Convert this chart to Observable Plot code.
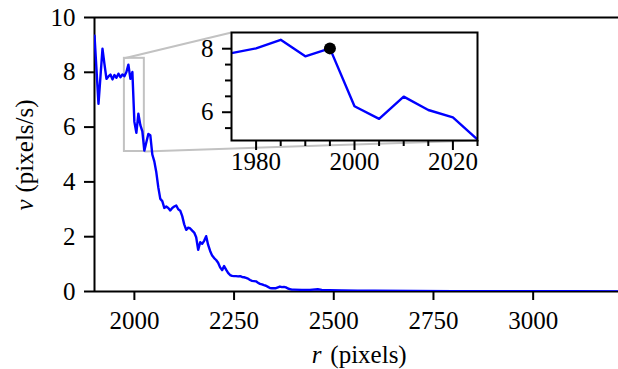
<!DOCTYPE html>
<html><head><meta charset="utf-8">
<script src="https://cdn.jsdelivr.net/npm/d3@7"></script>
<script src="https://cdn.jsdelivr.net/npm/@observablehq/plot@0.6"></script>
<style>
body{margin:0;background:#fff;font-family:'Liberation Serif','Times New Roman',Tinos,serif;}
#wrap{position:relative;width:618px;height:369px;background:#fff;}
#wrap svg{position:absolute;overflow:visible;}
</style></head><body><div id="wrap"></div>
<script>
// ---- data ----
const rValues = [
 1900,1905,1910,1915,1920,1925,1930,1935,1940,1945,
 1950,1955,1960,1965,1970,1975,1980,1985,1990,1995,
 2000,2005,2010,2015,2020,2025,2030,2035,2040,2045,
 2050,2055,2060,2065,2070,2075,2080,2085,2090,2095,
 2100,2105,2110,2115,2120,2125,2130,2135,2140,2145,
 2150,2155,2160,2165,2170,2175,2180,2185,2190,2195,
 2200,2205,2210,2215,2220,2225,2230,2235,2240,2245,
 2250,2255,2260,2265,2270,2275,2280,2285,2290,2295,
 2300,2305,2310,2315,2320,2325,2330,2335,2340,2345,
 2350,2355,2360,2365,2370,2375,2380,2385,2390,2395,
 2400,2420,2440,2460,2470,2490,2520,2560,2600,2700,
 2800,2900,3000,3100,3214
];
const vValues = [
 9.34,8.10,6.85,7.85,8.86,8.30,7.76,7.85,7.92,7.74,
 7.90,7.80,7.95,7.82,7.92,7.86,8.01,8.28,7.76,8.01,
 6.19,5.79,6.49,6.07,5.84,5.14,5.45,5.75,5.70,5.00,
 4.75,4.35,3.80,3.38,3.30,3.05,3.10,3.05,2.96,3.05,
 3.10,3.14,3.00,2.95,2.75,2.45,2.25,2.33,2.30,2.22,
 2.15,1.98,1.52,1.80,1.74,1.85,2.02,1.70,1.48,1.31,
 1.22,1.15,1.05,0.88,0.78,0.93,0.80,0.68,0.60,0.57,
 0.56,0.56,0.55,0.56,0.53,0.52,0.50,0.47,0.42,0.39,
 0.38,0.37,0.32,0.28,0.26,0.23,0.21,0.17,0.13,0.12,
 0.12,0.12,0.15,0.18,0.16,0.17,0.15,0.11,0.09,0.07,
 0.07,0.06,0.06,0.08,0.06,0.05,0.04,0.03,0.025,0.02,
 0.015,0.012,0.01,0.008,0.006
];
const xTicks = [2000, 2250, 2500, 2750, 3000];
const yTicks = [0, 2, 4, 6, 8, 10];
const insetXMajor = [1980, 2000, 2020];
const insetXMinor = [1985, 1990, 1995, 2005, 2010, 2015, 2025];
const insetYMajor = [6, 8];
const insetYMinor = [5.5, 6.5, 7, 7.5];
const zoomX = [1975, 2025];
const zoomY = [5.11, 8.51];
const highlightR = 1995;
const xLabel = ["r", "(pixels)"];
const yLabel = ["v", "(pixels/s)"];

const data = rValues.map((r, i) => ({r, v: vValues[i]}));
const hp = data.filter(d => d.r === highlightR);

// ---- layout ----
const W = 618, H = 369;
const mL = 94, mT = 17, mB = 78, mR = 0;
const xDom = [1900, 3214], yDom = [0, 10];
const inset = {left: 231, top: 32, right: 477, bottom: 140};
const FONT = "Liberation Serif";
const FS = 25;
const grey = "#c2c2c2";
const LW = 2.4;

const sx = d3.scaleLinear().domain(xDom).range([mL, W - mR]);
const sy = d3.scaleLinear().domain(yDom).range([H - mB, mT]);

const connectors = [
  {x1: zoomX[0], y1: zoomY[1], x2: sx.invert(inset.left), y2: sy.invert(inset.top)},
  {x1: zoomX[1], y1: zoomY[0], x2: sx.invert(inset.right), y2: sy.invert(inset.bottom)}
];

const main = Plot.plot({
  width: W, height: H,
  marginLeft: mL, marginTop: mT, marginBottom: mB, marginRight: mR,
  style: {fontFamily: FONT, fontSize: FS + "px", color: "#000", background: "transparent", overflow: "visible"},
  x: {domain: xDom, label: null},
  y: {domain: yDom, label: null},
  marks: [
    Plot.rect([{}], {x1: zoomX[0], x2: zoomX[1], y1: zoomY[0], y2: zoomY[1], fill: "none", stroke: grey, strokeWidth: 2}),
    Plot.link(connectors, {x1: "x1", y1: "y1", x2: "x2", y2: "y2", stroke: grey, strokeWidth: 2}),
    Plot.ruleY([yDom[1]], {stroke: "#000", strokeWidth: 2}),
    Plot.ruleY([yDom[0]], {stroke: "#000", strokeWidth: 2}),
    Plot.ruleX([xDom[0]], {stroke: "#000", strokeWidth: 2}),
    Plot.line(data, {x: "r", y: "v", stroke: "#0000ff", strokeWidth: LW, clip: true}),
    Plot.axisX(xTicks, {tickSize: 9, tickPadding: 11, strokeWidth: 2, fontSize: FS, fontFamily: FONT, label: null, tickFormat: d => String(d)}),
    Plot.axisY(yTicks, {tickSize: 10, tickPadding: 9, strokeWidth: 2, fontSize: FS, fontFamily: FONT, label: null, tickFormat: d => String(d)}),
    Plot.text([xLabel[1]], {frameAnchor: "bottom", dy: 71, dx: 12, fontFamily: FONT, fontSize: FS, textAnchor: "middle", fill: "#000"}),
    Plot.text([xLabel[0]], {frameAnchor: "bottom", dy: 71, dx: -40, fontFamily: FONT, fontStyle: "italic", fontSize: FS, textAnchor: "middle", fill: "#000"})
  ]
});
main.style.left = "0px"; main.style.top = "0px";
document.getElementById("wrap").appendChild(main);

// rotated y label
const msvg = d3.select(main);
const yl = msvg.append("text").attr("transform", "translate(33,155) rotate(-90)").attr("text-anchor", "middle")
  .attr("font-family", FONT).attr("font-size", FS).attr("fill", "#000");
yl.append("tspan").attr("font-style", "italic").text(yLabel[0]);
yl.append("tspan").attr("dx", 7).text(yLabel[1]);

// ---- inset ----
const iL = 60, iT = 6, iR = 6, iB = 45;
const inner = Plot.plot({
  width: (inset.right - inset.left) + iL + iR,
  height: (inset.bottom - inset.top) + iT + iB,
  marginLeft: iL, marginTop: iT, marginRight: iR, marginBottom: iB,
  style: {fontFamily: FONT, fontSize: FS + "px", color: "#000", background: "transparent", overflow: "visible"},
  x: {domain: zoomX, label: null},
  y: {domain: zoomY, label: null},
  marks: [
    Plot.frame({fill: "#fff", stroke: "none"}),
    Plot.line(data, {x: "r", y: "v", stroke: "#0000ff", strokeWidth: LW, clip: true}),
    Plot.dot(hp, {x: "r", y: "v", r: 6, fill: "#000", stroke: "none"}),
    Plot.frame({stroke: "#000", strokeWidth: 2}),
    Plot.axisX(insetXMajor, {tickSize: 10, tickPadding: 2, strokeWidth: 2, fontSize: FS, fontFamily: FONT, label: null, tickFormat: d => String(d)}),
    Plot.axisX(insetXMinor, {tickSize: 6, strokeWidth: 2, label: null, tickFormat: () => ""}),
    Plot.axisY(insetYMajor, {tickSize: 9, tickPadding: 9, strokeWidth: 2, fontSize: FS, fontFamily: FONT, label: null, tickFormat: d => String(d)}),
    Plot.axisY(insetYMinor, {tickSize: 6, strokeWidth: 2, label: null, tickFormat: () => ""})
  ]
});
inner.style.left = (inset.left - iL) + "px";
inner.style.top = (inset.top - iT) + "px";
document.getElementById("wrap").appendChild(inner);
</script>
</body></html>
